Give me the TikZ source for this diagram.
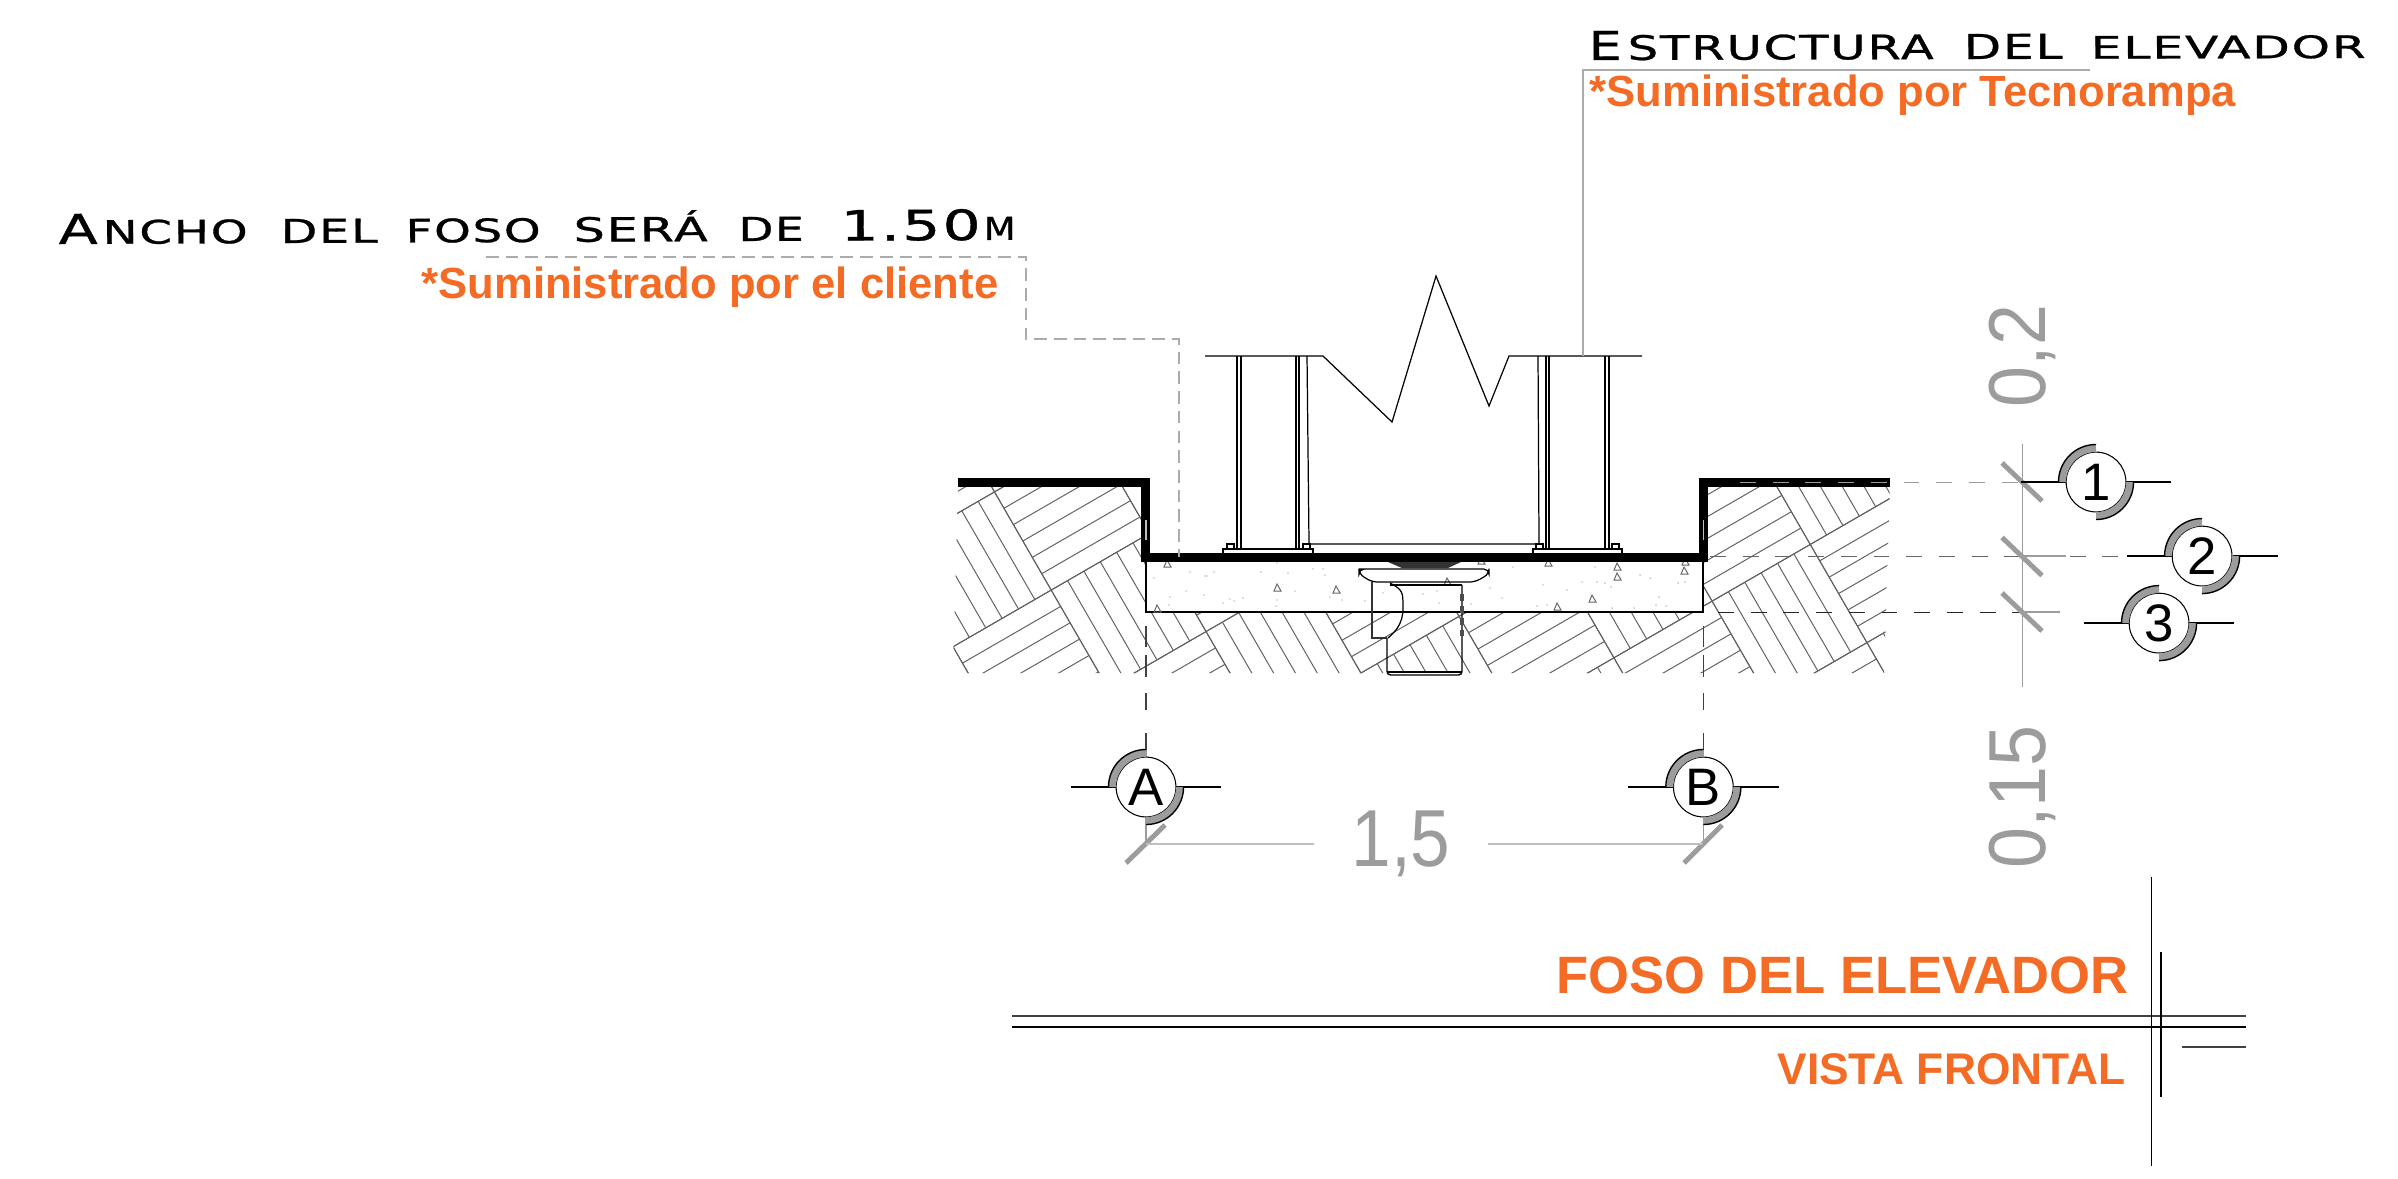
\documentclass[tikz,border=0pt]{standalone}
\usepackage{fontspec}
\usepackage{graphicx}
\usepackage{tikz}
\usetikzlibrary{positioning}
\setmainfont{Liberation Sans}
\newfontfamily\bankface[LetterSpace=4,FakeBold=0.8]{DejaVu Sans}
\definecolor{naranja}{HTML}{F36B24}
\definecolor{cota}{HTML}{9C9C9C}
\definecolor{guia}{HTML}{ABABAB}
\newlength\pxu
\setlength\pxu{0.01cm}
\newcommand{\tam}[1]{\fontsize{#1}{#1}\selectfont}
\newcommand{\palabra}[3]{\resizebox{#1\pxu}{#2\pxu}{\bankface #3}}
\newcommand{\hueco}[1]{\hspace{#1\pxu}}
\newcommand{\estrecha}[1]{\scalebox{0.91}[1]{#1}}

\begin{document}
\begin{tikzpicture}[x=0.01cm,y=-0.01cm,node distance=1cm,on grid,
    trazo/.style={line width=0.35pt,black},
    trama/.style={line width=0.28pt,black!62},
    losa/.style={line width=2.56pt,black,miter limit=10},
    lider/.style={line width=0.35pt,guia,dash pattern=on 3.6pt off 2pt},
    eje/.style={line width=0.28pt,black!60,dash pattern=on 4.5pt off 4.8pt},
    cotafina/.style={line width=0.3pt,cota},
    tick/.style={line width=1.4pt,cota},
    ala/.style={line width=0.5pt,black},
    burbuja/.style={circle,draw=black,line width=0.3pt,fill=white,minimum size=17pt,inner sep=0pt,font=\tam{15}},
    cotatxt/.style={text=cota,font=\tam{23},inner sep=0pt},
    nota/.style={text=naranja,font=\bfseries\tam{12.4},inner sep=0pt}]
  \useasboundingbox (0,0) rectangle (2398,1178);

  % terreno
  \begin{scope}
    \clip (958,482) -- (1145,482) -- (1145,612) -- (1703,612) -- (1703,482) -- (1890,482)
      -- (1884,673) -- (953,673) -- cycle;
    \begin{scope}[x={(0.00866cm,0.005cm)},y={(0.005cm,-0.00866cm)},shift={(614.4,1035.2)}]
      \foreach \i in {-2,...,7} \foreach \j in {-2,...,5} {
        \draw[trama] ({\i*113.2},{\j*113.2}) -- ++(113.2,0) -- ++(0,113.2) -- ++(-113.2,0) -- cycle;
        \pgfmathtruncatemacro\paridad{mod(\i+\j+100,2)}
        \foreach \k in {1,...,5} {
          \ifnum\paridad=0
            \draw[trama] ({(\i+\k/6)*113.2},{\j*113.2}) -- ++(0,113.2);
          \else
            \draw[trama] ({\i*113.2},{(\j+\k/6)*113.2}) -- ++(113.2,0);
          \fi
        }
      }
    \end{scope}
  \end{scope}

  % concreto
  \draw[trazo] (1146,557) -- (1146,612) -- (1703,612) -- (1703,557);
  \foreach \a/\b in {1190/572,1205/576,1207/576,1214/572,1154/578,1186/591,1204/595,1170/597,1169/605,
      1223/603,1230/599,1234/601,1243/598,1261/572,1277/563,1288/573,1295/591,1277/600,1276/606,1313/569,
      1323/569,1325/575,1342/600,1330/597,1365/601,1383/593,1513/567,1595/567,1490/588,1502/598,1543/585,
      1567/590,1582/582,1597/582,1605/583,1611/587,1537/606,1547/605,1640/575,1650/578,1678/583,1685/582,
      1659/597,1656/605,1666/606,1634/608,1612/608,1471/604,1439/603,1423/594,1437/591}
    \fill[black!55] (\a,\b) circle (0.007cm);
  \foreach \a/\b in {1167/564,1277/588,1336/590,1157/609,1481/561,1548/563,1617/567,1617/577,1685/562,
      1684/571,1447/582,1557/607,1592/599}
    \draw[line width=0.28pt,black!60] (\a,\b-4) -- (\a+4,\b+3) -- (\a-3,\b+3) -- cycle;

  % sifon
  \fill[black!80] (1388,562) -- (1461,562) -- (1448,568) -- (1402,568) -- cycle;
  \draw[trazo,rounded corners=1.5pt] (1364,569) -- (1489,569) -- (1489,574) -- (1475,582)
    -- (1372,582) -- (1359,574) -- (1359,569) -- cycle;
  \draw[line width=0.45pt,black!80] (1372,582) -- (1372,638) -- (1387,638);
  \draw[trazo] (1390,585) -- (1462,585);
  \draw[trazo] (1390,583) .. controls (1403,590) and (1403,592) .. (1403,608)
    .. controls (1403,624) and (1395,632) .. (1388,638);
  \draw[line width=0.4pt,black,rounded corners=1pt] (1387,638) -- (1387,675) -- (1462,675) -- (1462,585);
  \draw[trazo] (1387,672) -- (1462,672);
  \draw[line width=0.9pt,black!70,dash pattern=on 2pt off 1.4pt] (1462,594) -- (1462,636);

  % columnas
  \draw[trazo] (1205,356) -- (1323,356) -- (1392,422) -- (1436,276) -- (1489,406) -- (1509,356) -- (1642,356);
  \foreach \a in {1237,1241,1296,1299,1546,1549}
    \draw[trazo] (\a,356) -- (\a,549);
  \draw[trazo] (1307,356) -- (1309,544) -- (1539,544) -- (1538,356);
  \draw[trazo] (1605,356) -- (1605,549);
  \draw[trazo] (1609,356) -- (1609,549);
  \foreach \a/\b in {1223/1313,1533/1622}
    \draw[trazo] (\a,553) -- (\a,549) -- (\b,549) -- (\b,553);
  \foreach \a in {1227,1303,1536,1612}
    \draw[trazo] (\a,549) -- (\a,544) -- (\a+7,544) -- (\a+7,549);

  % losa
  \draw[losa] (958,482) -- (1145,482) -- (1145,557) -- (1703,557) -- (1703,482) -- (1890,482);
  \foreach \a in {1146,1703}
    \draw[line width=0.3pt,black!25] (\a,520) -- (\a,540);

  % lideres
  \coordinate (lidA) at (486,257);
  \coordinate (lidB) at (1179,557);
  \draw[lider] (lidA) -- (1026,257) -- (1026,339) -- (1179,339) -- (lidB);
  \coordinate (lidC) at (2090,70);
  \coordinate (lidD) at (1583,356);
  \draw[line width=0.4pt,guia] (lidC) -- (1583,70) -- (lidD);

  % textos
  \node[anchor=base west,inner sep=0pt,rotate=0.15] (estructura) at (1588,60)
    {\palabra{33}{29}{E}\hueco{6}\palabra{306}{25}{STRUCTURA}\hueco{30}\palabra{99}{25}{DEL}\hueco{28}\palabra{275}{23}{ELEVADOR}};
  \node[anchor=base west,inner sep=0pt,rotate=0.25] (ancho) at (58,244)
    {\palabra{39}{30}{A}\hueco{5}\palabra{145}{24}{NCHO}\hueco{33}\palabra{97}{24}{DEL}\hueco{28}\palabra{135}{24}{FOSO}\hueco{33}\palabra{134}{31}{SERÁ}\hueco{31}\palabra{65}{24}{DE}\hueco{37}\palabra{140}{31}{1.50}\hueco{3}\palabra{32}{23}{M}};
  \node[nota,anchor=base east] (cliente) at (999,298) {*Suministrado por el cliente};
  \node[nota,anchor=base west] (tecnorampa) at (1589,106) {*Suministrado por Tecnorampa};

  % ejes y cotas
  \coordinate (ejeA) at (1146,612);
  \coordinate (ejeB) at (1703,612);
  \foreach \n in {ejeA,ejeB} {
    \foreach \p/\q in {14/35,43/65,81/98,121/138}
      \draw[line width=0.3pt,black!75] (\n) ++(0,\p) -- ++(0,\q-\p);
    \draw[cotafina] (\n) ++(0,138) -- ++(0,94);
  }
  \draw[eje,cota] (1740,482) -- (2030,482);
  \draw[eje] (1710,556) -- (2125,556);
  \draw[eje,black!85] (1718,612) -- (2022,612);
  \draw[cotafina] (2022,556) -- (2066,556);
  \draw[cotafina] (2022,612) -- (2060,612);
  \coordinate (cotaT) at (2022,444);
  \coordinate (cotaS) at (2022,687);
  \draw[cotafina] (cotaT) -- (cotaS);
  \foreach \y in {482,556.5,612}
    \draw[tick] (2002,\y-19) -- (2042,\y+19);
  \draw[tick] (1165,825) -- (1126,863);
  \draw[tick] (1722,825) -- (1684,863);

  \node[cotatxt,rotate=90] (cotados) at (2022,356) {\estrecha{0,2}};
  \node[cotatxt,rotate=90] (cotaquince) at (2022,797) {\estrecha{0,15}};
  \node[cotatxt,inner xsep=10.4pt] (cotaancho) at (1401,844) {\scalebox{0.88}[1]{1,5}};
  \coordinate (cotaL) at (1146,844);
  \coordinate (cotaR) at (1703,844);
  \draw[line width=0.5pt,black!25] (cotaL) -- (cotaancho);
  \draw[line width=0.5pt,black!25] (cotaancho) -- (cotaR);

  % burbujas
  \node[burbuja] (A) at (1146,787) {A};
  \node[burbuja] (B) [right=5.57cm of A] {B};
  \node[burbuja] (n1) at (2096,482) {1};
  \node[burbuja] (n2) [below right=0.74cm and 1.06cm of n1] {2};
  \node[burbuja] (n3) [below right=1.41cm and 0.63cm of n1] {3};
  \foreach \n in {A,B,n1,n2,n3} {
    \draw[ala] (\n.west) -- ++(-45,0);
    \draw[ala] (\n.east) -- ++(45,0);
    \draw[line width=2pt,cota] ([shift={(180:0.335cm)}]\n.center) arc[start angle=180,end angle=90,radius=0.335cm];
    \draw[line width=2pt,cota] ([shift={(0:0.335cm)}]\n.center) arc[start angle=0,end angle=-90,radius=0.335cm];
    \draw[line width=0.4pt,black] ([shift={(180:0.375cm)}]\n.center) arc[start angle=180,end angle=90,radius=0.375cm];
    \draw[line width=0.4pt,black] ([shift={(0:0.375cm)}]\n.center) arc[start angle=0,end angle=-90,radius=0.375cm];
  }

  % cajetin
  \coordinate (cajI) at (1012,1016);
  \coordinate (cajD) at (2246,1016);
  \coordinate (cajIb) at (1012,1027);
  \coordinate (cajDb) at (2246,1027);
  \draw[line width=0.35pt,black!75] (cajI) -- (cajD);
  \draw[line width=0.8pt,black] (cajIb) -- (cajDb);
  \draw[line width=0.3pt,black] (2151,877) -- (2151,1166);
  \draw[line width=0.45pt,black] (2161,952) -- (2161,1097);
  \draw[line width=0.35pt,black!75] (2182,1047) -- (2246,1047);
  \node[text=naranja,font=\bfseries\tam{14.95},anchor=base east,inner sep=0pt] (foso) at (2129,993) {FOSO DEL ELEVADOR};
  \node[text=naranja,font=\bfseries\tam{12.6},anchor=base east,inner sep=0pt] (vista) at (2126,1084) {VISTA FRONTAL};
\end{tikzpicture}
\end{document}
